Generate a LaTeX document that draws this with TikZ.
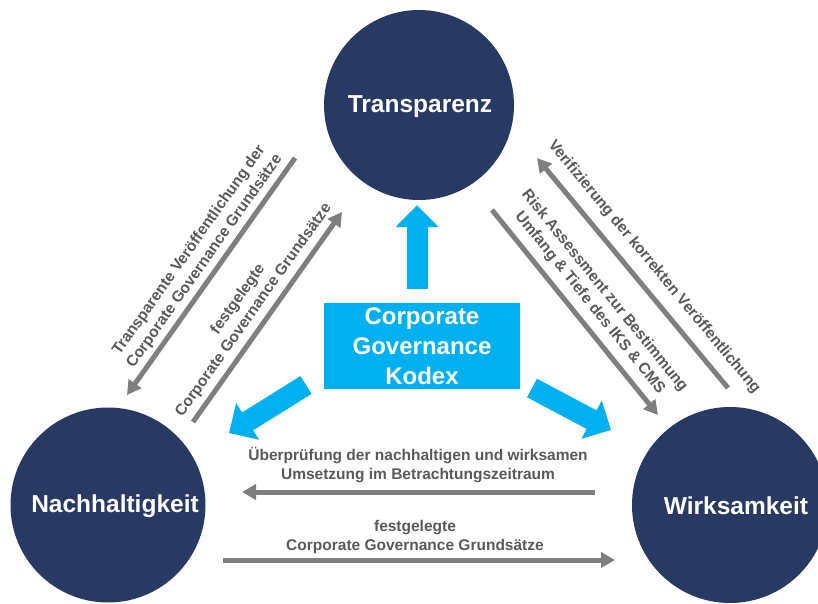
\documentclass[tikz,border=0pt]{standalone}
\usepackage{fontspec}
\setmainfont{Liberation Sans}
\usetikzlibrary{arrows.meta,calc}
\definecolor{navy}{RGB}{40,58,100}
\definecolor{cgblue}{RGB}{0,176,240}
\definecolor{arrowgray}{RGB}{127,127,127}
\definecolor{textgray}{RGB}{89,89,89}

\begin{document}
\begin{tikzpicture}[x=1pt,y=1pt,
  hub/.style={circle, fill=navy, inner sep=0pt, minimum size=#1},
  hubtext/.style={text=white, inner sep=0pt, font=\fontsize{24.5}{29}\selectfont\bfseries},
  kodex/.style={fill=cgblue, text=white, minimum width=196pt, minimum height=86pt,
    align=center, inner sep=0pt, font=\fontsize{24}{30}\selectfont\bfseries},
  flow/.style={draw=arrowgray, line width=5pt, -{Triangle[length=14pt,width=15pt]}},
  push/.style={draw=cgblue, line width=21pt, -{Triangle[length=22pt,width=42pt]}},
  note/.style={text=textgray, align=center, inner sep=0pt,
    font=\fontsize{15.5}{19}\selectfont\bfseries}]

\useasboundingbox (0,0) rectangle (818,603);
\clip (0,0) rectangle (818,603);

% the three pillars
\node[hub=190pt] (T) at (419,498) {};
\node[hubtext] (Tlabel) at (420,496) {Transparenz};
\node[hub=195pt] (N) at (108,98) {};
\node[hubtext] (Nlabel) at (115,97) {Nachhaltigkeit};
\node[hub=196pt] (W) at (730,98) {};
\node[hubtext] (Wlabel) at (736,97) {Wirksamkeit};

% the code in the middle
\node[kodex] (K) at (422,257) {Corporate\\Governance\\Kodex};

% blue arrows from the code to the pillars
\coordinate (upTail) at ([xshift=-5pt,yshift=14pt]K.north);
\coordinate (upTip) at ([xshift=-2pt,yshift=-5pt]T.south);
\coordinate (dlTail) at (306,218);
\coordinate (dlTip) at (229,170);
\coordinate (drTail) at (532,215);
\coordinate (drTip) at (611,173);
\draw[push] (upTail) -- (upTip);
\draw[push] (dlTail) -- (dlTip);
\draw[push] (drTail) -- (drTip);

% grey flows between the pillars
\coordinate (loTail) at (295,445);
\coordinate (loTip) at (127,208);
\coordinate (liTail) at (193,181);
\coordinate (liTip) at (342,391);
\coordinate (roTail) at (728,215);
\coordinate (roTip) at (537,445);
\coordinate (riTail) at (492,393);
\coordinate (riTip) at (658,188);
\coordinate (buTail) at (595,111);
\coordinate (buTip) at (242,111);
\coordinate (blTail) at (223,43);
\coordinate (blTip) at (615,43);
\draw[flow] (loTail) -- (loTip);
\draw[flow] (liTail) -- (liTip);
\draw[flow] (roTail) -- (roTip);
\draw[flow] (riTail) -- (riTip);
\draw[flow] (buTail) -- (buTip);
\draw[flow] (blTail) -- (blTip);

% flow labels
\node[note, rotate=54.7] (loText) at (197,347)
  {Transparente Veröffentlichung der\\Corporate Governance Grundsätze};
\node[note, rotate=54.6] (liText) at (246,298)
  {festgelegte\\Corporate Governance Grundsätze};
\node[note, rotate=-50.3] (roText) at (654,336)
  {Verifizierung der korrekten Veröffentlichung};
\node[note, rotate=-51] (riText) at (597,306)
  {Risk Assessment zur Bestimmung\\Umfang \& Tiefe des IKS \& CMS};
\node[note] (buText) at (418,137.5)
  {Überprüfung der nachhaltigen und wirksamen\\Umsetzung im Betrachtungszeitraum};
\node[note] (blText) at (415,66.5)
  {festgelegte\\Corporate Governance Grundsätze};
\end{tikzpicture}
\end{document}
